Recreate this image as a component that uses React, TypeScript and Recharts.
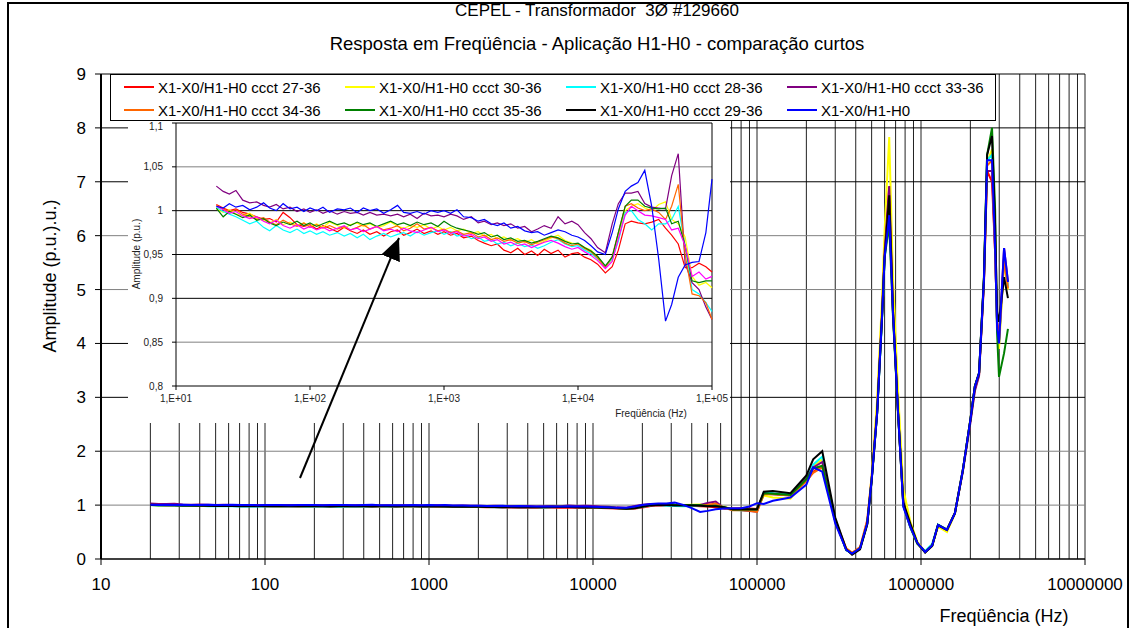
import React from 'react'
import { LineChart, Line, XAxis, YAxis, ReferenceLine } from 'recharts'

const FONT = '"Liberation Sans", Arial, sans-serif'

// frequency sweep (Hz) shared by every curve
const lowFreqs = [
  20, 22.5, 25, 28, 31.5, 35.5, 40, 45, 50, 56, 63, 71, 80, 90, 100,
  112, 125, 140, 160, 180, 200, 225, 250, 280, 315, 355, 400, 450, 500, 560, 630, 710, 800, 900, 1000,
  1120, 1250, 1400, 1600, 1800, 2000, 2250, 2500, 2800, 3150, 3550, 4000, 4500, 5000, 5600, 6300, 7100, 8000, 9000, 10000,
  11200, 12500, 14000, 16000, 18000, 20000, 22500, 25000, 28000, 31500, 35500, 40000, 45000, 50000, 56000, 63000, 71000, 80000, 90000, 100000,
]
const highFreqs = [
  110000, 125000, 160000, 200000, 220000, 250000, 300000, 350000, 380000, 425000,
  470000, 500000, 540000, 580000, 600000, 640000, 675000, 725000, 780000, 860000,
  950000, 1060000, 1170000, 1270000, 1440000, 1610000, 1800000, 2000000, 2130000, 2260000,
  2420000, 2530000, 2710000, 2830000, 2910000, 2990000, 3210000, 3390000,
]

const seriesNames = [
  'X1-X0/H1-H0 ccct 27-36',
  'X1-X0/H1-H0 ccct 30-36',
  'X1-X0/H1-H0 ccct 28-36',
  'X1-X0/H1-H0 ccct 33-36',
  'X1-X0/H1-H0 ccct 34-36',
  'X1-X0/H1-H0 ccct 35-36',
  'X1-X0/H1-H0 ccct 29-36',
  'X1-X0/H1-H0',
]
const seriesColors = ['#FF0000', '#FFFF00', '#00FFFF', '#800080', '#FF6600', '#008000', '#000000', '#0000FF']
const insetColors = ['#FF0000', '#FFFF00', '#00FFFF', '#800080', '#FF6600', '#008000', '#FF00FF', '#0000FF']

// amplitude (p.u.) up to 100 kHz
const low27 = [
  1.007, 1.003, 1.000, 1.002, 0.998, 0.996, 0.993, 0.990, 0.991, 0.987, 0.998, 0.992, 0.984, 0.982, 0.984,
  0.979, 0.983, 0.980, 0.976, 0.981, 0.977, 0.974, 0.978, 0.973, 0.976, 0.971, 0.976, 0.978, 0.972, 0.975, 0.979, 0.974, 0.977, 0.973, 0.976,
  0.972, 0.974, 0.969, 0.971, 0.966, 0.963, 0.960, 0.962, 0.955, 0.952, 0.957, 0.950, 0.954, 0.949, 0.956, 0.951, 0.955, 0.947, 0.951, 0.952,
  0.947, 0.944, 0.939, 0.929, 0.936, 0.955, 0.985, 0.988, 0.986, 0.985, 0.987, 0.990, 0.980, 0.972, 0.962, 0.935, 0.935, 0.940, 0.936, 0.930,
]
const low30 = [
  1.002, 0.998, 1.001, 0.996, 0.994, 0.997, 0.991, 0.989, 0.986, 0.990, 0.984, 0.987, 0.983, 0.986, 0.982,
  0.985, 0.981, 0.987, 0.983, 0.980, 0.984, 0.986, 0.982, 0.985, 0.981, 0.983, 0.987, 0.982, 0.980, 0.983, 0.981, 0.984, 0.979, 0.982, 0.978,
  0.981, 0.977, 0.979, 0.974, 0.976, 0.971, 0.973, 0.968, 0.970, 0.966, 0.968, 0.964, 0.967, 0.962, 0.965, 0.969, 0.972, 0.966, 0.963, 0.962,
  0.958, 0.955, 0.947, 0.936, 0.944, 0.970, 1.000, 1.005, 1.008, 1.003, 1.000, 1.007, 1.010, 0.990, 0.985, 0.970, 0.925, 0.915, 0.918, 0.912,
]
const low28 = [
  1.004, 0.999, 0.996, 0.993, 0.989, 0.985, 0.988, 0.981, 0.977, 0.983, 0.978, 0.975, 0.979, 0.974, 0.977,
  0.973, 0.976, 0.972, 0.975, 0.971, 0.974, 0.969, 0.973, 0.967, 0.971, 0.974, 0.970, 0.973, 0.975, 0.971, 0.976, 0.972, 0.975, 0.977, 0.973,
  0.976, 0.971, 0.973, 0.968, 0.970, 0.965, 0.967, 0.962, 0.964, 0.960, 0.963, 0.959, 0.961, 0.957, 0.960, 0.964, 0.967, 0.962, 0.959, 0.960,
  0.955, 0.951, 0.945, 0.937, 0.945, 0.965, 0.998, 1.000, 0.990, 0.985, 0.978, 0.985, 0.985, 0.990, 1.005, 0.960, 0.910, 0.905, 0.895, 0.885,
]
const low33 = [
  1.028, 1.022, 1.019, 1.023, 1.012, 1.009, 1.010, 1.006, 1.004, 1.007, 1.002, 1.004, 0.999, 1.002, 0.998,
  1.001, 0.997, 1.000, 0.996, 0.999, 0.997, 0.998, 0.995, 0.998, 0.995, 0.996, 0.994, 0.996, 0.993, 0.996, 0.991, 0.997, 0.994, 0.995, 0.993,
  0.996, 0.994, 0.990, 0.993, 0.986, 0.988, 0.984, 0.986, 0.983, 0.985, 0.980, 0.982, 0.976, 0.979, 0.983, 0.980, 0.993, 0.985, 0.988, 0.984,
  0.975, 0.968, 0.958, 0.952, 0.985, 1.008, 1.020, 1.020, 1.022, 1.008, 1.004, 1.003, 1.002, 1.040, 1.065, 0.940, 0.918, 0.910, 0.890, 0.876,
]
const low34 = [
  1.006, 1.002, 0.999, 1.001, 0.996, 0.993, 0.990, 0.992, 0.987, 0.984, 0.989, 0.985, 0.982, 0.986, 0.981,
  0.984, 0.980, 0.983, 0.979, 0.982, 0.978, 0.981, 0.984, 0.979, 0.982, 0.978, 0.980, 0.983, 0.977, 0.980, 0.985, 0.979, 0.981, 0.977, 0.979,
  0.975, 0.977, 0.973, 0.975, 0.970, 0.972, 0.967, 0.969, 0.965, 0.967, 0.963, 0.965, 0.961, 0.964, 0.967, 0.970, 0.968, 0.963, 0.960, 0.962,
  0.957, 0.953, 0.946, 0.935, 0.948, 0.975, 1.005, 1.008, 1.003, 1.000, 1.002, 0.998, 0.990, 1.005, 1.030, 0.950, 0.905, 0.903, 0.895, 0.876,
]
const low35 = [
  1.003, 0.993, 0.999, 0.996, 0.992, 0.995, 0.989, 0.991, 0.986, 0.983, 0.987, 0.984, 0.988, 0.983, 0.986,
  0.982, 0.985, 0.988, 0.984, 0.986, 0.983, 0.987, 0.984, 0.986, 0.982, 0.985, 0.988, 0.984, 0.986, 0.983, 0.987, 0.984, 0.986, 0.982, 0.988,
  0.983, 0.980, 0.978, 0.976, 0.973, 0.975, 0.970, 0.972, 0.967, 0.969, 0.965, 0.966, 0.963, 0.965, 0.968, 0.971, 0.969, 0.965, 0.962, 0.963,
  0.958, 0.954, 0.948, 0.937, 0.947, 0.975, 1.005, 1.012, 1.012, 1.005, 1.003, 1.002, 1.003, 0.985, 0.988, 0.960, 0.920, 0.918, 0.920, 0.920,
]
const low29 = [
  1.005, 1.001, 0.997, 0.999, 0.994, 0.991, 0.993, 0.988, 0.985, 0.989, 0.983, 0.980, 0.984, 0.979, 0.982,
  0.978, 0.981, 0.977, 0.980, 0.983, 0.978, 0.980, 0.976, 0.979, 0.982, 0.977, 0.979, 0.976, 0.980, 0.977, 0.975, 0.978, 0.981, 0.976, 0.978,
  0.974, 0.976, 0.971, 0.973, 0.968, 0.970, 0.965, 0.967, 0.962, 0.964, 0.960, 0.962, 0.958, 0.961, 0.964, 0.966, 0.963, 0.959, 0.956, 0.958,
  0.953, 0.949, 0.943, 0.934, 0.942, 0.968, 0.995, 1.005, 1.000, 0.995, 0.994, 0.992, 0.990, 0.978, 0.980, 0.960, 0.925, 0.930, 0.922, 0.925,
]
const lowRef = [
  1.005, 1.003, 1.008, 1.004, 1.006, 1.001, 1.004, 1.009, 1.003, 1.000, 1.008, 1.002, 1.004, 0.999, 1.003,
  1.000, 1.004, 0.998, 1.002, 1.001, 1.003, 0.998, 1.003, 1.000, 1.002, 0.997, 1.001, 1.006, 0.998, 0.997, 0.999, 0.996, 1.000, 0.998, 1.000,
  0.997, 1.001, 0.993, 0.992, 0.988, 0.990, 0.985, 0.983, 0.986, 0.980, 0.982, 0.977, 0.975, 0.976, 0.972, 0.975, 0.978, 0.976, 0.972, 0.970,
  0.966, 0.960, 0.953, 0.950, 0.975, 1.002, 1.022, 1.028, 1.032, 1.046, 1.005, 0.945, 0.874, 0.893, 0.924, 0.938, 0.941, 0.942, 0.975, 1.036,
]

// amplitude (p.u.) above 100 kHz
const high27 = [
  1.20, 1.21, 1.19, 1.45, 1.62, 1.72, 0.70, 0.18, 0.11, 0.22, 0.72, 1.52, 2.80, 4.70, 5.75, 6.90, 4.70, 2.75, 1.05, 0.62,
  0.30, 0.14, 0.26, 0.62, 0.55, 0.86, 1.66, 2.56, 3.15, 3.42, 5.10, 7.20, 7.00, 5.70, 4.40, 4.05, 5.60, 5.05,
]
const high30 = [
  1.18, 1.14, 1.12, 1.48, 1.72, 1.85, 0.72, 0.17, 0.10, 0.21, 0.68, 1.55, 2.95, 4.90, 6.10, 7.83, 5.20, 3.10, 1.30, 0.70,
  0.32, 0.13, 0.24, 0.60, 0.50, 0.84, 1.64, 2.60, 3.22, 3.44, 5.20, 7.35, 7.60, 5.90, 4.30, 3.90, 5.50, 5.00,
]
const high28 = [
  1.24, 1.22, 1.20, 1.50, 1.75, 1.90, 0.74, 0.16, 0.10, 0.19, 0.64, 1.45, 2.70, 4.50, 5.55, 6.50, 4.50, 2.70, 0.98, 0.58,
  0.28, 0.15, 0.28, 0.64, 0.55, 0.86, 1.66, 2.58, 3.20, 3.45, 5.18, 7.40, 7.50, 5.80, 4.35, 4.00, 5.60, 5.05,
]
const high33 = [
  1.21, 1.20, 1.18, 1.50, 1.70, 1.80, 0.70, 0.17, 0.10, 0.20, 0.66, 1.47, 2.72, 4.60, 5.70, 6.92, 4.60, 2.70, 1.00, 0.60,
  0.29, 0.13, 0.25, 0.63, 0.54, 0.85, 1.62, 2.52, 3.12, 3.40, 5.15, 7.20, 7.20, 5.70, 4.40, 4.05, 5.77, 5.15,
]
const high34 = [
  1.20, 1.20, 1.18, 1.44, 1.60, 1.70, 0.72, 0.20, 0.12, 0.20, 0.66, 1.47, 2.75, 4.60, 5.65, 6.60, 4.55, 2.70, 1.00, 0.60,
  0.29, 0.13, 0.25, 0.63, 0.54, 0.85, 1.65, 2.58, 3.20, 3.45, 5.18, 7.30, 7.40, 5.80, 4.35, 4.00, 5.55, 5.02,
]
const high35 = [
  1.22, 1.21, 1.19, 1.48, 1.68, 1.73, 0.70, 0.17, 0.10, 0.20, 0.66, 1.47, 2.70, 4.55, 5.60, 6.20, 4.50, 2.68, 1.00, 0.60,
  0.29, 0.13, 0.25, 0.63, 0.54, 0.85, 1.65, 2.58, 3.20, 3.45, 5.25, 7.50, 8.00, 6.50, 4.20, 3.38, 3.82, 4.27,
]
const high29 = [
  1.25, 1.26, 1.22, 1.55, 1.85, 2.00, 0.77, 0.18, 0.08, 0.18, 0.64, 1.45, 2.70, 4.55, 5.60, 6.75, 4.60, 2.72, 1.05, 0.66,
  0.30, 0.12, 0.24, 0.63, 0.54, 0.85, 1.65, 2.58, 3.20, 3.45, 5.20, 7.50, 7.85, 6.20, 4.60, 4.40, 5.23, 4.84,
]
const highRef = [
  1.02, 1.08, 1.14, 1.38, 1.70, 1.62, 0.66, 0.17, 0.10, 0.20, 0.66, 1.47, 2.70, 4.56, 5.60, 6.38, 4.56, 2.70, 0.97, 0.60,
  0.30, 0.13, 0.25, 0.63, 0.54, 0.85, 1.65, 2.58, 3.20, 3.45, 5.18, 7.40, 7.40, 5.80, 4.30, 4.00, 5.77, 5.14,
]

const lowSeries = [low27, low30, low28, low33, low34, low35, low29, lowRef]
const highSeries = [high27, high30, high28, high33, high34, high35, high29, highRef]

const mainXTicks = [10, 100, 1000, 10000, 100000, 1000000, 10000000]
const mainYTicks = [0, 1, 2, 3, 4, 5, 6, 7, 8, 9]
const mainHGrid = [1, 2, 3, 4, 5, 6, 7, 8, 9]
const mainHGridColors = ['#808080', '#808080', '#000', '#000', '#808080', '#808080', '#000', '#000', '#000']
const mainVGrid = [10, 100, 1000, 10000, 100000, 1000000].flatMap((d) => [1, 2, 3, 4, 5, 6, 7, 8, 9].map((m) => m * d)).filter((v) => v > 10)
mainVGrid.push(10000000)

const insetXTicks = [10, 100, 1000, 10000, 100000]
const insetYTicks = [0.8, 0.85, 0.9, 0.95, 1, 1.05, 1.1]
const insetHGrid = [0.85, 0.9, 0.95, 1, 1.05, 1.1]
const insetHGridColors = ['#808080', '#000', '#000', '#000', '#808080', '#000']

const keys = seriesNames.map((_, i) => `s${i}`)

const mainRows = [...lowFreqs, ...highFreqs].map((f, i) => {
  const row: Record<string, number> = { f }
  keys.forEach((k, j) => {
    row[k] = i < lowFreqs.length ? lowSeries[j][i] : highSeries[j][i - lowFreqs.length]
  })
  return row
})

const insetRows = lowFreqs.map((f, i) => {
  const row: Record<string, number> = { f }
  keys.forEach((k, j) => {
    row[k] = lowSeries[j][i]
  })
  return row
})

const tickStyle = { fill: '#000', fontSize: 17, fontFamily: FONT }
const insetTickStyle = { fill: '#222', fontSize: 10, fontFamily: FONT }

function MainLegend() {
  return (
    <div
      style={{
        position: 'absolute', left: 110, top: 74, width: 886, height: 47, boxSizing: 'border-box',
        border: '1px solid #000', background: '#fff', fontFamily: FONT, fontSize: 15,
      }}
    >
      {seriesNames.map((name, i) => (
        <div
          key={name}
          style={{
            position: 'absolute', left: 13 + (i % 4) * 221, top: i < 4 ? 3 : 26, height: 18,
            display: 'flex', alignItems: 'center', whiteSpace: 'nowrap',
          }}
        >
          <span style={{ display: 'inline-block', width: 30, height: 2, background: seriesColors[i], marginRight: 4 }} />
          <span>{name}</span>
        </div>
      ))}
    </div>
  )
}

export default function App() {
  return (
    <div style={{ position: 'relative', width: 1130, height: 628, background: '#fff', overflow: 'hidden' }}>
      <style>{'body{margin:0}'}</style>
      <LineChart width={1130} height={628} data={mainRows} margin={{ top: 74, right: 45, bottom: 0, left: 41 }}>
        {mainVGrid.map((v) => (
          <ReferenceLine key={`v${v}`} x={v} stroke="#222" strokeWidth={1} />
        ))}
        {mainHGrid.map((v, i) => (
          <ReferenceLine key={`h${v}`} y={v} stroke={mainHGridColors[i]} strokeWidth={1} />
        ))}
        <XAxis
          dataKey="f"
          type="number"
          scale="log"
          domain={[10, 10000000]}
          ticks={mainXTicks}
          tickFormatter={(v) => String(v)}
          tick={tickStyle}
          tickMargin={13}
          height={69}
          axisLine={{ stroke: '#000', strokeWidth: 1.5 }}
          tickLine={{ stroke: '#000' }}
        />
        <YAxis
          type="number"
          domain={[0, 9]}
          ticks={mainYTicks}
          tick={tickStyle}
          tickMargin={9}
          width={60}
          axisLine={{ stroke: '#000', strokeWidth: 2 }}
          tickLine={{ stroke: '#000' }}
        />
        {keys.map((k, i) => (
          <Line
            key={k}
            dataKey={k}
            name={seriesNames[i]}
            stroke={seriesColors[i]}
            strokeWidth={2}
            dot={false}
            type="linear"
            isAnimationActive={false}
          />
        ))}
      </LineChart>

      <MainLegend />

      <div style={{ position: 'absolute', left: 128, top: 121, width: 602, height: 302, background: '#fff' }}>
        <LineChart width={602} height={302} data={insetRows} margin={{ top: 2, right: 18, bottom: 0, left: 0 }}>
          {insetHGrid.map((v, i) => (
            <ReferenceLine key={`ih${v}`} y={v} stroke={insetHGridColors[i]} strokeWidth={1} />
          ))}
          <ReferenceLine x={100000} stroke="#000" strokeWidth={1} />
          <XAxis
            dataKey="f"
            type="number"
            scale="log"
            domain={[10, 100000]}
            ticks={insetXTicks}
            tickFormatter={(v) => `1,E+0${Math.round(Math.log10(v))}`}
            tick={insetTickStyle}
            tickSize={4}
            tickMargin={5}
            height={37}
            axisLine={{ stroke: '#000' }}
            tickLine={{ stroke: '#000' }}
          />
          <YAxis
            type="number"
            domain={[0.8, 1.1]}
            ticks={insetYTicks}
            tickFormatter={(v) => String(v).replace('.', ',')}
            tick={insetTickStyle}
            tickSize={4}
            tickMargin={9}
            width={48}
            axisLine={{ stroke: '#000' }}
            tickLine={{ stroke: '#000' }}
          />
          {keys.map((k, i) => (
            <Line
              key={k}
              dataKey={k}
              name={seriesNames[i]}
              stroke={insetColors[i]}
              strokeWidth={1.2}
              dot={false}
              type="linear"
              isAnimationActive={false}
            />
          ))}
        </LineChart>
      </div>

      <svg width={1130} height={628} style={{ position: 'absolute', left: 0, top: 0, pointerEvents: 'none' }}>
        <defs>
          <marker id="ah" markerWidth="22" markerHeight="20" refX="22" refY="10" orient="auto" markerUnits="userSpaceOnUse">
            <path d="M0,0 L22,10 L0,20 z" fill="#000" />
          </marker>
        </defs>
        <g fontFamily={FONT} fill="#000" textAnchor="middle">
          <text x={597} y={16} fontSize={17} style={{ whiteSpace: 'pre' }}>CEPEL - Transformador  3Ø #129660</text>
          <text x={597} y={50} fontSize={18.5}>Resposta em Freqüência - Aplicação H1-H0 - comparação curtos</text>
          <text x={1004} y={622} fontSize={18}>Freqüência (Hz)</text>
          <text transform="translate(56,276) rotate(-90)" fontSize={18}>Amplitude (p.u.).u.)</text>
        </g>
        <rect x={8} y={3} width={1120} height={660} fill="none" stroke="#000" strokeWidth={2} />
        <g fontFamily={FONT} fill="#222" textAnchor="middle" fontSize={10}>
          <text x={651} y={417}>Freqüência (Hz)</text>
          <text transform="translate(140,254) rotate(-90)">Amplitude (p.u.)</text>
        </g>
        <line x1={300} y1={478} x2={399} y2={238} stroke="#000" strokeWidth={2} markerEnd="url(#ah)" />
      </svg>
    </div>
  )
}
